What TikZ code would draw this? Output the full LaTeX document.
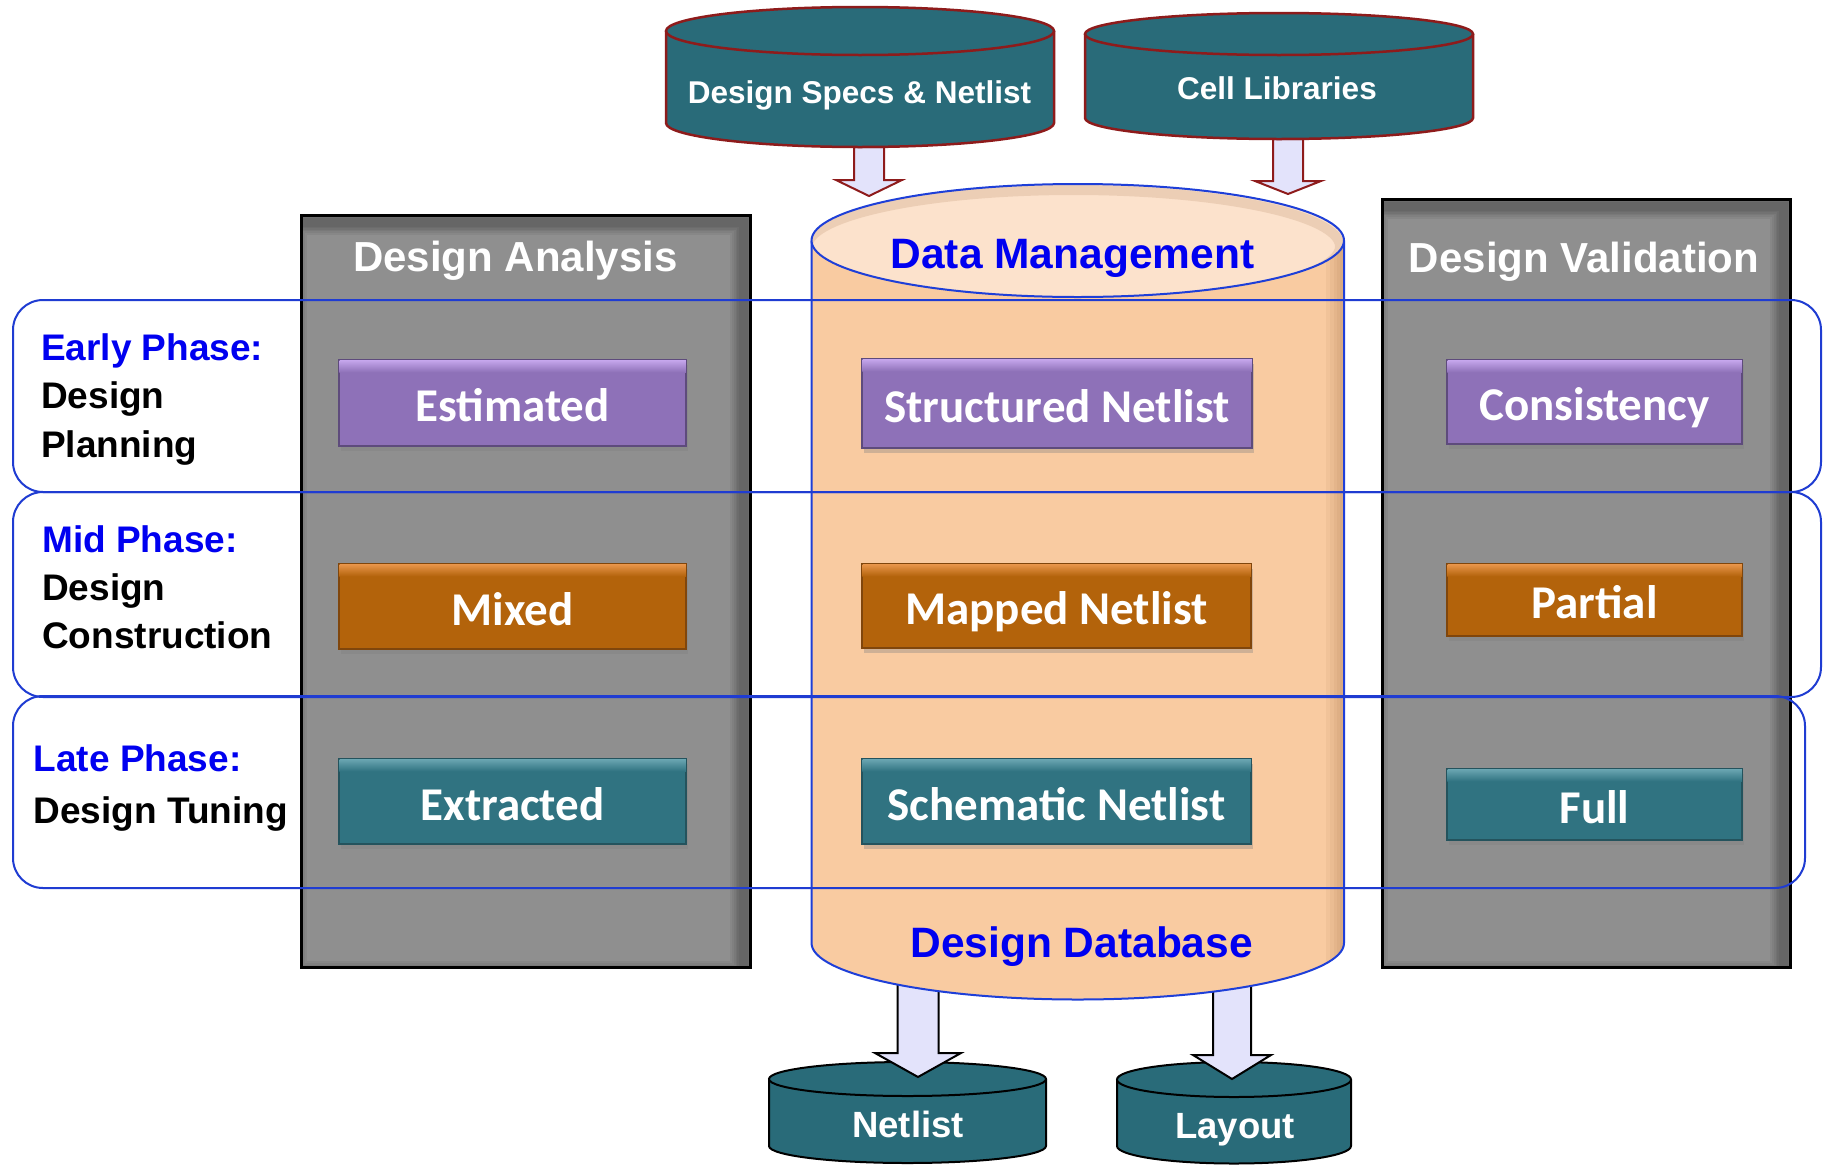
\documentclass[tikz,border=0pt]{standalone}
\usepackage{fontspec}
\setmainfont{Liberation Sans}
\newfontfamily\chipfamily{Carlito}
\usetikzlibrary{calc,shadows}

\definecolor{cylTeal}{HTML}{296B79}
\definecolor{rimRed}{HTML}{8E1B1B}
\definecolor{arrowFill}{HTML}{E3E3FB}
\definecolor{peach}{HTML}{F9CBA1}
\definecolor{peachLight}{HTML}{FCE2CC}
\definecolor{peachDark}{HTML}{A8764E}
\definecolor{dbBlue}{HTML}{1E3FD8}
\definecolor{phaseBlue}{HTML}{1F3CD2}
\definecolor{titleBlue}{HTML}{0000F0}
\definecolor{colGray}{HTML}{8F8F8F}
\definecolor{purTop}{HTML}{C5A6EC}
\definecolor{purMid}{HTML}{8E71B8}
\definecolor{purEdge}{HTML}{5E4B7C}
\definecolor{oraTop}{HTML}{E8954A}
\definecolor{oraMid}{HTML}{B3630B}
\definecolor{oraEdge}{HTML}{80460C}
\definecolor{teaTop}{HTML}{6AA5B1}
\definecolor{teaMid}{HTML}{307381}
\definecolor{teaEdge}{HTML}{24535D}

\newcommand\fsz[1]{\fontsize{#1}{#1}\selectfont}

% drum: body style, lid style, centre x, x radius, lid centre y, base centre y, y radius
\newcommand\drum[7]{%
  \path[#1] ({#3-#4},#5) -- ({#3-#4},#6)
    .. controls ({#3-#4},{#6+0.5523*#7}) and ({#3-0.5523*#4},{#6+#7}) .. (#3,{#6+#7})
    .. controls ({#3+0.5523*#4},{#6+#7}) and ({#3+#4},{#6+0.5523*#7}) .. ({#3+#4},#6)
    -- ({#3+#4},#5);
  \path[#2] (#3,#5) ellipse [x radius=#4, y radius=#7];}

% vertical block arrow: style, from, to, shaft half width, head half width, head length
\newcommand\blockarrow[6]{%
  \draw[#1] ($(#2)+(-#4,0)$) -- ($(#3)+(-#4,-#6)$) -- ($(#3)+(-#5,-#6)$) -- (#3)
    -- ($(#3)+(#5,-#6)$) -- ($(#3)+(#4,-#6)$) -- ($(#2)+(#4,0)$) -- cycle;}

% bevel highlight along the top of a label box
\newcommand\chipglow[2]{%
  \fill[top color=#2Top, bottom color=#2Mid]
    ([xshift=1pt,yshift=-1pt]#1.north west) rectangle ([xshift=-1pt,yshift=-13pt]#1.north east);}

% soft inner shade of a side column (top and right edges)
\newcommand\innershade[1]{%
  \draw[black, opacity=0.05, line width=#1]
    ([xshift=-7pt,yshift=-7pt]path picture bounding box.north west) rectangle
    ([xshift=-7pt,yshift=-7pt]path picture bounding box.south east);}

\begin{document}
\begin{tikzpicture}[x=1pt,y=-1pt,
  phase/.style={draw=phaseBlue, line width=2pt, rounded corners=30pt},
  column/.style={draw=black, line width=3pt, fill=colGray, inner sep=0pt,
    path picture={\innershade{26pt}\innershade{22pt}\innershade{18pt}\innershade{15pt}
      \innershade{12pt}\innershade{9pt}}},
  topcyl/.style={fill=cylTeal, draw=rimRed, line width=2.5pt},
  botcyl/.style={fill=cylTeal, draw=black, line width=2pt},
  toparrow/.style={fill=arrowFill, draw=rimRed, line width=2pt},
  botarrow/.style={fill=arrowFill, draw=black, line width=2pt},
  dbbody/.style={fill=peach, draw=dbBlue, line width=2pt,
    path picture={
      \foreach \w in {18,14,10,7,4}
        \fill[peachDark, opacity=0.09]
          ([xshift=-\w pt]path picture bounding box.north east) rectangle
          (path picture bounding box.south east);}},
  dblid/.style={fill=peachLight, draw=dbBlue, line width=2pt,
    path picture={\draw[peachDark, opacity=0.18, line width=10pt]
      ([xshift=-4pt,yshift=-6pt]path picture bounding box.center) ellipse [x radius=266.25, y radius=56.5];}},
  chip/.style={draw=#1Edge, fill=#1Mid, line width=1.5pt, inner sep=0pt, text=white,
    font=\chipfamily\bfseries\fsz{47}, text height=37pt, text depth=0pt,
    drop shadow={shadow xshift=2pt, shadow yshift=-5pt, opacity=0.35}},
  hdr/.style={anchor=base, inner sep=0pt, text=white, font=\bfseries\fsz{42}},
  dbtitle/.style={anchor=base, inner sep=0pt, text=titleBlue, font=\bfseries\fsz{42.5}},
  drumlabel/.style={anchor=base, inner sep=0pt, text=white, font=\bfseries\fsz{#1}},
  phasetitle/.style={anchor=base west, inner sep=0pt, text=titleBlue, font=\bfseries\fsz{37}},
  phasetext/.style={anchor=base west, inner sep=0pt, text=black, font=\bfseries\fsz{37}}]

\useasboundingbox (0,0) rectangle (1823,1165);
\fill[white] (0,0) rectangle (1823,1165);

% side columns
\node[column, minimum width=449pt, minimum height=752pt] (anaCol) at (525.5,591) {};
\node[column, minimum width=408pt, minimum height=768pt] (valCol) at (1586,583) {};

% output stores
\drum{botcyl}{botcyl}{907.5}{138.5}{1079}{1146}{17}
\drum{botcyl}{botcyl}{1234}{117}{1079.5}{1146}{17.5}

% flows out of the database
\coordinate (dbOutL) at (918,960);
\coordinate (netIn) at (918,1077);
\coordinate (dbOutR) at (1232,960);
\coordinate (layIn) at (1232,1079);
\blockarrow{botarrow}{dbOutL}{netIn}{20.5}{43}{24}
\blockarrow{botarrow}{dbOutR}{layIn}{19}{39}{24}

% flows into the database
\coordinate (specsOut) at (869,147);
\coordinate (dbInL) at (869,196);
\coordinate (cellsOut) at (1288,139);
\coordinate (dbInR) at (1288,194);
\blockarrow{toparrow}{specsOut}{dbInL}{15}{33}{16}
\blockarrow{toparrow}{cellsOut}{dbInR}{15}{33}{13}

% input stores
\drum{topcyl}{topcyl}{860}{194}{31}{123}{24}
\drum{topcyl}{topcyl}{1279}{194}{34}{118}{21}

% design database
\drum{dbbody}{dblid}{1077.75}{266.25}{240.5}{943}{56.5}

% phase bands
\draw[phase] (13,300) rectangle (1821,492);
\draw[phase] (13,492) rectangle (1821,697);
\draw[phase] (13,696) rectangle (1805,888);

% label boxes
\node[chip=pur, minimum width=347pt, minimum height=86pt] (est) at (512.5,403) {Estimated};
\node[chip=ora, minimum width=347pt, minimum height=85pt] (mix) at (512.5,606.5) {Mixed};
\node[chip=tea, minimum width=347pt, minimum height=85pt] (ext) at (512.5,801.5) {Extracted};
\node[chip=pur, minimum width=390pt, minimum height=89pt] (snl) at (1057,403.5) {Structured Netlist};
\node[chip=ora, minimum width=389pt, minimum height=84pt] (mnl) at (1056.5,606) {Mapped Netlist};
\node[chip=tea, minimum width=389pt, minimum height=85pt] (scn) at (1056.5,801.5) {Schematic Netlist};
\node[chip=pur, minimum width=295pt, minimum height=84pt] (cons) at (1594.5,402) {Consistency};
\node[chip=ora, minimum width=295pt, minimum height=72pt] (part) at (1594.5,600) {Partial};
\node[chip=tea, minimum width=295pt, minimum height=71pt] (full) at (1594.5,804.5) {Full};
\chipglow{est}{pur}\chipglow{mix}{ora}\chipglow{ext}{tea}
\chipglow{snl}{pur}\chipglow{mnl}{ora}\chipglow{scn}{tea}
\chipglow{cons}{pur}\chipglow{part}{ora}\chipglow{full}{tea}

% headings
\node[hdr] (anaHead) at (515.5,271) {Design Analysis};
\node[hdr] (valHead) at (1584,272.5) {Design Validation};
\node[dbtitle] (dmHead) at (1072.5,268.3) {Data Management};
\node[dbtitle] (ddbHead) at (1081.7,957) {Design Database};

% store labels
\node[drumlabel=31.5] (specs) at (859.5,103) {Design Specs \& Netlist};
\node[drumlabel=31.5] (cells) at (1277,99) {Cell Libraries};
\node[drumlabel=36.5] (netlist) at (908,1137) {Netlist};
\node[drumlabel=36.5] (layout) at (1235,1138) {Layout};

% phase captions
\node[phasetitle] (earlyT) at (41,360) {Early Phase:};
\node[phasetext] (early1) at (41,408) {Design};
\node[phasetext] (early2) at (41,457) {Planning};
\node[phasetitle] (midT) at (42,552) {Mid Phase:};
\node[phasetext] (mid1) at (42,600) {Design};
\node[phasetext] (mid2) at (42,648) {Construction};
\node[phasetitle] (lateT) at (33.5,771) {Late Phase:};
\node[phasetext] (late1) at (33.5,823) {Design Tuning};
\end{tikzpicture}
\end{document}
